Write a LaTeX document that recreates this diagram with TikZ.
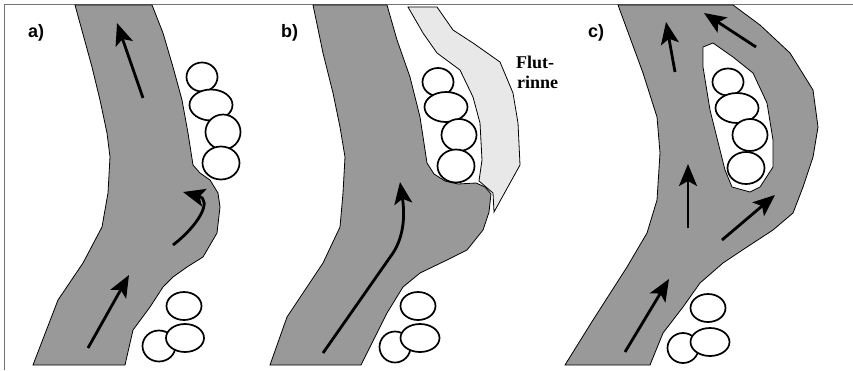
\documentclass[tikz,border=0pt]{standalone}
\usepackage{fontspec}
\setmainfont{Liberation Serif}
\newfontfamily\labelfont{Liberation Sans}
\usetikzlibrary{arrows.meta, shapes.geometric}
\tikzstyle{river} = [draw=black, line width=.8pt, fill=black!40]
\tikzstyle{channel} = [draw=black, line width=.8pt, fill=black!9]
\tikzstyle{bar} = [draw=black, line width=.8pt, fill=white]
\tikzstyle{stone} = [ellipse, draw, line width=1.7pt, fill=white, inner sep=0pt]
\tikzstyle{flow} = [line width=2.8pt, draw=black, -{Stealth[length=22pt,width=18pt,inset=5pt]}]
\tikzstyle{panel} = [font=\labelfont\bfseries\fontsize{18}{18}\selectfont, anchor=base west, inner sep=0pt]
\tikzstyle{word} = [font=\bfseries\fontsize{18}{18}\selectfont, anchor=base west, inner sep=0pt]

\begin{document}
\begin{tikzpicture}[x=1pt, y=-1pt]
\useasboundingbox (0,0) rectangle (853,370);
\draw[black!55, line width=1pt] (4,370) -- (4,4) -- (853,4);

% a) river with the bulge
\draw[river] (75,5) -- (152,5) -- (163,33) -- (173,67) -- (182,100) -- (188,133) -- (193,165)
  -- (200,173) -- (210,180) -- (218,193) -- (220,207) -- (217,233) -- (203,257) -- (187,267)
  -- (173,277) -- (163,287) -- (150,307) -- (133,330) -- (125,365) -- (33,365) -- (58,300)
  -- (83,263) -- (102,227) -- (108,193) -- (110,157) -- (107,133) -- (100,100) -- (92,67) -- cycle;

\node [panel] (la) at (28,37) {a)};

\node [stone, minimum width=31, minimum height=29] (a1) at (202,77) {};
\node [stone, minimum width=43, minimum height=31] (a2) at (211,105) {};
\node [stone, minimum width=35, minimum height=35] (a3) at (223,132) {};
\node [stone, minimum width=37, minimum height=33] (a4) at (221,163) {};
\node [stone, minimum width=35, minimum height=28] (a5) at (184,306) {};
\node [stone, minimum width=33, minimum height=31] (a6) at (159,346) {};
\node [stone, minimum width=38, minimum height=28] (a7) at (185,338) {};

\coordinate (a-in) at (88,348);
\coordinate (a-mid) at (129,275);
\coordinate (a-bend) at (173,245);
\coordinate (a-eddy) at (183,192);
\coordinate (a-top) at (143,98);
\coordinate (a-out) at (117,23);

\draw[flow] (a-in) -- (a-mid);
\draw[flow] (a-bend) .. controls (198,226) and (213,200) .. (a-eddy);
\draw[flow] (a-top) -- (a-out);

% b) river with the flood channel behind the bar
\draw[channel] (408,7) -- (437,7) -- (453,30) -- (473,43) -- (500,62) -- (513,93) -- (518,123)
  -- (520,165) -- (494,212) -- (493,193) -- (479,181) -- (482,160) -- (480,123) -- (473,97)
  -- (460,70) -- (437,53) -- (423,33) -- cycle;
\draw[river] (313,5) -- (387,5) -- (397,40) -- (410,77) -- (420,117) -- (427,163) -- (434,174)
  -- (445,181) -- (458,184) -- (476,183) -- (485,187) -- (491,194) -- (489,212) -- (483,230)
  -- (467,250) -- (447,260) -- (420,273) -- (403,287) -- (387,313) -- (377,333) -- (361,365)
  -- (270,365) -- (287,317) -- (323,263) -- (340,227) -- (343,193) -- (345,157) -- (340,127)
  -- (333,93) -- (323,53) -- cycle;

\node [panel] (lb) at (281,37) {b)};
\node [word] (flut) at (516,68) {Flut-};
\node [word] (rinne) at (517,88) {rinne};

\node [stone, minimum width=31, minimum height=28] (b1) at (438,82) {};
\node [stone, minimum width=43, minimum height=30] (b2) at (446,107) {};
\node [stone, minimum width=35, minimum height=32] (b3) at (459,135) {};
\node [stone, minimum width=37, minimum height=33] (b4) at (456,166) {};
\node [stone, minimum width=35, minimum height=28] (b5) at (418,306) {};
\node [stone, minimum width=31, minimum height=31] (b6) at (395,347) {};
\node [stone, minimum width=39, minimum height=28] (b7) at (420,338) {};

\coordinate (b-in) at (323,353);
\coordinate (b-knee) at (393,253);
\coordinate (b-out) at (400,182);

\draw[flow] (b-in) -- (b-knee) .. controls (404,236) and (405,215) .. (b-out);

% c) river split round the island
\draw[river] (618,5) -- (733,5) -- (760,25) -- (790,53) -- (813,90) -- (818,127) -- (813,157)
  -- (803,187) -- (793,213) -- (773,230) -- (747,247) -- (723,263) -- (700,283) -- (683,307)
  -- (663,333) -- (650,365) -- (565,365) -- (593,320) -- (627,267) -- (647,233) -- (657,200)
  -- (660,153) -- (657,117) -- (643,73) -- cycle;
\draw[bar] (703,47) -- (713,43) -- (733,57) -- (753,73) -- (767,103) -- (773,140) -- (773,167)
  -- (760,187) -- (750,192) -- (732,187) -- (725,170) -- (710,110) -- (703,67) -- cycle;

\node [panel] (lc) at (588,37) {c)};

\node [stone, minimum width=31, minimum height=27] (c1) at (728,82) {};
\node [stone, minimum width=43, minimum height=30] (c2) at (737,108) {};
\node [stone, minimum width=35, minimum height=32] (c3) at (750,135) {};
\node [stone, minimum width=37, minimum height=32] (c4) at (746,168) {};
\node [stone, minimum width=35, minimum height=28] (c5) at (708,308) {};
\node [stone, minimum width=31, minimum height=30] (c6) at (683,348) {};
\node [stone, minimum width=39, minimum height=28] (c7) at (710,342) {};

\coordinate (c-in) at (625,352);
\coordinate (c-mid) at (669,279);
\coordinate (c-low) at (688,228);
\coordinate (c-high) at (688,164);
\coordinate (c-side) at (722,240);
\coordinate (c-back) at (775,195);
\coordinate (c-left) at (675,72);
\coordinate (c-lout) at (666,22);
\coordinate (c-right) at (756,47);
\coordinate (c-rout) at (704,13);

\draw[flow] (c-in) -- (c-mid);
\draw[flow] (c-low) -- (c-high);
\draw[flow] (c-side) -- (c-back);
\draw[flow] (c-left) -- (c-lout);
\draw[flow] (c-right) -- (c-rout);

\end{tikzpicture}
\end{document}
